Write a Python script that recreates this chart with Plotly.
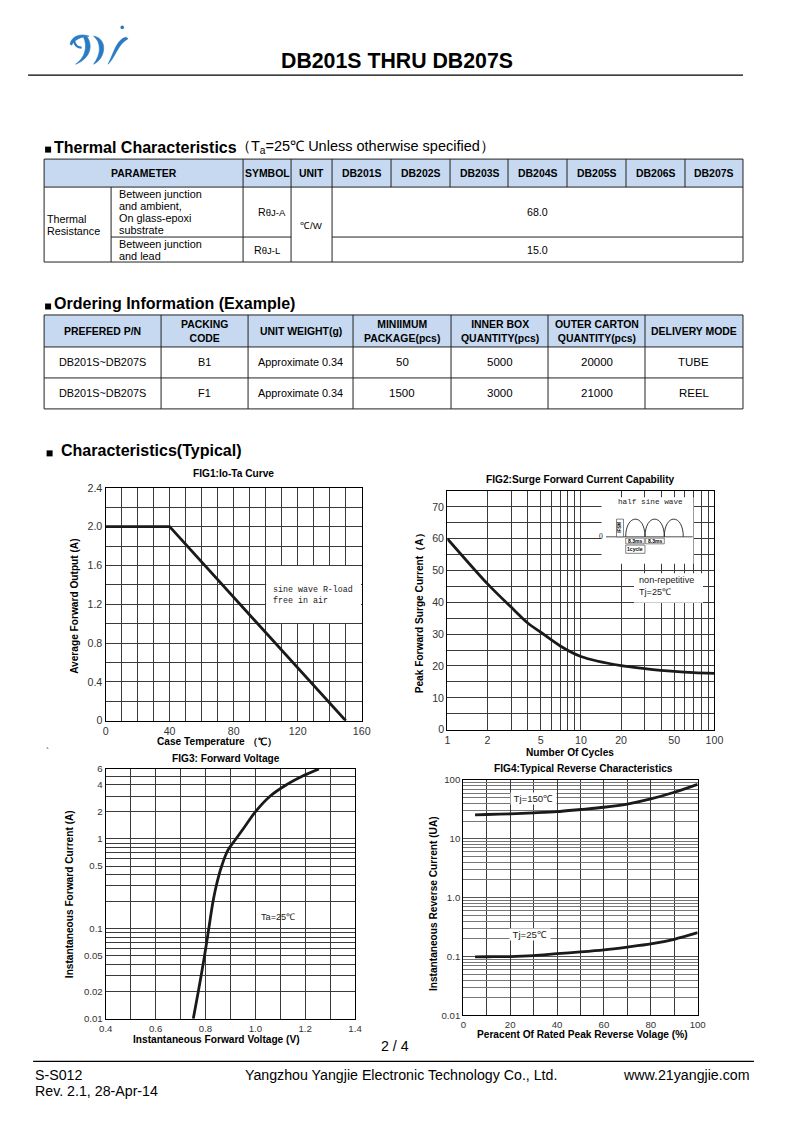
import math
import plotly.graph_objects as go

W, H = 794, 1122
# the captured picture shows the page slightly scaled/shifted; positions below are
# measured on the reference picture and converted back to figure pixels here
AX, BX = 0.98, 6.9
AY, BY = 0.99, 4.8
FS = 1 / 0.985

def px(X): return ((X - BX) / AX) / W
def py(Y): return 1 - ((Y - BY) / AY) / H

SANS = "Liberation Sans, Arial, sans-serif"
MONO = "Liberation Mono, Courier New, monospace"
SERIF = "Liberation Serif, Times New Roman, serif"

# ------------------------------------------------------------------ data
doc_title = "DB201S THRU DB207S"

thermal_heading = "Thermal Characteristics"
thermal_note = "（T<sub>a</sub>=25℃ Unless otherwise specified）"
thermal_columns = ["PARAMETER", "SYMBOL", "UNIT", "DB201S", "DB202S", "DB203S",
                   "DB204S", "DB205S", "DB206S", "DB207S"]
thermal_group = ["Thermal", "Resistance"]
thermal_conditions = [["Between junction", "and ambient,", "On glass-epoxi", "substrate"],
                      ["Between junction", "and lead"]]
thermal_symbols = ["R<span style='font-size:9.5px'>θJ-A</span>",
                   "R<span style='font-size:9.5px'>θJ-L</span>"]
thermal_unit = "℃/W"
thermal_values = ["68.0", "15.0"]

order_heading = "Ordering Information (Example)"
order_columns = ["PREFERED P/N", "PACKING<br>CODE", "UNIT WEIGHT(g)",
                 "MINIIMUM<br>PACKAGE(pcs)", "INNER BOX<br>QUANTITY(pcs)",
                 "OUTER CARTON<br>QUANTITY(pcs)", "DELIVERY MODE"]
order_rows = [["DB201S~DB207S", "B1", "Approximate 0.34", "50", "5000", "20000", "TUBE"],
              ["DB201S~DB207S", "F1", "Approximate 0.34", "1500", "3000", "21000", "REEL"]]

char_heading = "Characteristics(Typical)"

# FIG1 Io-Ta
fig1_temp = [0, 40, 150]
fig1_io = [2.0, 2.0, 0.0]
fig1_xticks = [0, 40, 80, 120, 160]
fig1_yticks = [0, 0.4, 0.8, 1.2, 1.6, 2.0, 2.4]
fig1_yticktext = ["0", "0.4", "0.8", "1.2", "1.6", "2.0", "2.4"]

# FIG2 surge
fig2_cycles = [1, 2, 3, 4, 5, 7, 10, 20, 30, 50, 70, 100]
fig2_current = [60, 45.8, 38.5, 33.5, 30.6, 26.3, 23.0, 20.1, 19.2, 18.3, 17.9, 17.7]
fig2_xticks = [1, 2, 5, 10, 20, 50, 100]
fig2_yticks = [0, 10, 20, 30, 40, 50, 60, 70]

# FIG3 forward voltage
fig3_voltage = [0.751, 0.771, 0.796, 0.813, 0.830, 0.843, 0.865, 0.890, 0.922,
                0.960, 1.000, 1.060, 1.125, 1.190, 1.255]
fig3_current = [0.01, 0.02, 0.05, 0.1, 0.2, 0.3, 0.5, 0.75, 1.0, 1.4, 2.0, 3.0,
                4.0, 5.0, 6.0]
fig3_xticks = [0.4, 0.6, 0.8, 1.0, 1.2, 1.4]
fig3_xticktext = ["0.4", "0.6", "0.8", "1.0", "1.2", "1.4"]
fig3_yticks = [0.01, 0.02, 0.05, 0.1, 0.5, 1, 2, 4, 6]
fig3_yticktext = ["0.01", "0.02", "0.05", "0.1", "0.5", "1", "2", "4", "6"]

# FIG4 reverse characteristics
fig4_pct = [5, 10, 20, 30, 40, 50, 60, 70, 80, 90, 100]
fig4_i150 = [25.5, 25.9, 26.5, 27.6, 29.0, 31.5, 34.4, 39.0, 47.6, 61.8, 84.5]
fig4_i25 = [0.099, 0.0995, 0.100, 0.104, 0.112, 0.120, 0.130, 0.145, 0.164, 0.197, 0.255]
fig4_xticks = [0, 20, 40, 60, 80, 100]
fig4_yticks = [0.01, 0.1, 1, 10, 100]
fig4_yticktext = ["0.01", "0.1", "1.0", "10", "100"]

footer_left = ["S-S012", "Rev. 2.1, 28-Apr-14"]
footer_mid = "Yangzhou Yangjie Electronic Technology Co., Ltd."
footer_right = "www.21yangjie.com"
page_no = "2 / 4"

# ------------------------------------------------------------------ helpers
shapes, annotations = [], []

def line(x0, y0, x1, y1, color="#222", width=1):
    shapes.append(dict(type="line", xref="paper", yref="paper", x0=px(x0), y0=py(y0),
                       x1=px(x1), y1=py(y1), line=dict(color=color, width=width)))

def rect(x0, y0, x1, y1, fill, color=None, width=0, layer="above"):
    shapes.append(dict(type="rect", xref="paper", yref="paper", x0=px(x0), y0=py(y0),
                       x1=px(x1), y1=py(y1), fillcolor=fill, layer=layer,
                       line=dict(color=color or fill, width=width)))

def P(x, y):
    return f"{px(x):.5f},{py(y):.5f}"

def bez(start, *segs):
    s = "M " + P(*start)
    for seg in segs:
        s += " C " + " ".join(P(*q) for q in seg)
    return s

def path(d, color, width, fill=None, close=False):
    shapes.append(dict(type="path", xref="paper", yref="paper", path=d + (" Z" if close else ""),
                       line=dict(color=color, width=width),
                       fillcolor=fill if fill else "rgba(0,0,0,0)"))

def text(x, y, s, size=10, anchor="center", font=SANS, color="#000", angle=0, bg=None):
    a = dict(xref="paper", yref="paper", x=px(x), y=py(y), text=s, showarrow=False,
             xanchor=anchor, yanchor="middle", textangle=angle,
             font=dict(family=font, size=size * FS, color=color), align="center")
    if bg:
        a["bgcolor"] = bg
        a["borderpad"] = 0
    annotations.append(a)

# ------------------------------------------------------------------ header / logo
logo = "#2a7ac4"
# leaf of the first glyph
path(bez((70, 43), ((71.5, 34.5), (81, 32), (89, 35)), ((82, 35.5), (75, 37.5), (71.5, 44))),
     logo, 0.6, fill=logo, close=True)
path(bez((74, 40), ((75, 44), (78, 46.5), (81.5, 46.5))), logo, 2.2)
# descender of the first glyph
path(bez((86.5, 35), ((93.5, 44), (90.5, 57.5), (75.5, 63)),
         ((84.5, 57), (88, 46), (83.5, 36))), logo, 0.6, fill=logo, close=True)
# middle glyph
path(bez((93.5, 35), ((100.5, 36), (104.5, 42), (103.5, 49)),
         ((102.5, 56), (98.5, 60.5), (93.5, 63)),
         ((97, 58), (99.3, 53), (99.3, 48)),
         ((99.3, 42), (97.3, 38), (93.5, 35))), logo, 0.6, fill=logo, close=True)
# right glyph
path(bez((126, 36), ((117, 37.5), (114, 51), (108, 63)),
         ((115.5, 56), (117.5, 43), (128, 37.5))), logo, 0.6, fill=logo, close=True)
shapes.append(dict(type="circle", xref="paper", yref="paper", x0=px(120.3), x1=px(124),
                   y0=py(28), y1=py(24.3), fillcolor=logo, line=dict(color=logo, width=0)))

text(397, 60, f"<b>{doc_title}</b>", size=21)
line(28, 74, 743, 74, "#000", 1.2)

# ------------------------------------------------------------------ thermal table
def square(x, yc):
    rect(x, yc - 0.5, x + 6, yc + 5.5, "#000")

square(45, 146)
text(52, 145.5, f"<b>{thermal_heading}</b>", size=15.8, anchor="left")
text(234, 146, thermal_note, size=14.3, anchor="left")

tc = [44, 111, 243, 291, 332, 391, 450, 508, 567, 626, 685, 743]
tr = [158, 186, 236, 261]
HEAD_BG = "#c6d9f1"
rect(tc[0], tr[0], tc[-1], tr[1], HEAD_BG)
hdr_edges = [(tc[0], tc[2])] + [(tc[i], tc[i + 1]) for i in range(2, len(tc) - 1)]
for (a, b), lab in zip(hdr_edges, thermal_columns):
    text((a + b) / 2, 172, f"<b>{lab}</b>", size=10.3)
line(tc[0], tr[0], tc[-1], tr[0])
line(tc[0], tr[1], tc[-1], tr[1])
line(tc[0], tr[3], tc[-1], tr[3])
line(tc[1], tr[2], tc[3], tr[2])
line(tc[4], tr[2], tc[-1], tr[2])
line(tc[0], tr[0], tc[0], tr[3])
line(tc[-1], tr[0], tc[-1], tr[3])
for xv in tc[2:-1]:
    line(xv, tr[0], xv, tr[1])
for xv in tc[1:5]:
    line(xv, tr[1], xv, tr[3])
for i, s in enumerate(thermal_group):
    text(44.5, 218 + 12 * i, s, size=10.6, anchor="left")
for j, cond in enumerate(thermal_conditions):
    y0 = 193 if j == 0 else 243
    for i, s in enumerate(cond):
        text(116.5, y0 + 12 * i, s, size=10.7, anchor="left")
text(272, 211, thermal_symbols[0], size=10.5)
text(267, 249, thermal_symbols[1], size=10.5)
text(311, 224, thermal_unit, size=9.5)
text(537, 211, thermal_values[0], size=10.5)
text(537, 249, thermal_values[1], size=10.5)

# ------------------------------------------------------------------ ordering table
square(45, 303)
text(52, 302.5, f"<b>{order_heading}</b>", size=15.8, anchor="left")
oc = [44, 161, 248, 353, 451, 548, 645, 743]
orr = [314, 346, 377, 408]
rect(oc[0], orr[0], oc[-1], orr[1], HEAD_BG)
for yv in orr:
    line(oc[0], yv, oc[-1], yv)
for xv in oc:
    line(xv, orr[0], xv, orr[-1])
for i, lab in enumerate(order_columns):
    text((oc[i] + oc[i + 1]) / 2, 330.5, f"<b>{lab}</b>", size=10.3)
for r, row in enumerate(order_rows):
    yc = (orr[r + 1] + orr[r + 2]) / 2
    for i, val in enumerate(row):
        sz = 11.3 if val.isdigit() or val in ("TUBE", "REEL") else 10.7
        text((oc[i] + oc[i + 1]) / 2, yc, val, size=sz)

# ------------------------------------------------------------------ characteristics
square(46.5, 450)
text(59, 449.5, f"<b>{char_heading}</b>", size=15.8, anchor="left")
text(47, 750, "`", size=9)

fig = go.Figure()
LINE = dict(color="#1a1a1a", width=2.8)
GRID = "#3a3a3a"
TICKC = "#333"

fig.add_trace(go.Scatter(x=fig1_temp, y=fig1_io, mode="lines", line=LINE,
                         xaxis="x", yaxis="y", hoverinfo="skip"))
fig.add_trace(go.Scatter(x=fig2_cycles, y=fig2_current, mode="lines",
                         line=dict(LINE, shape="spline", smoothing=0.8),
                         xaxis="x2", yaxis="y2", hoverinfo="skip"))
fig.add_trace(go.Scatter(x=fig3_voltage, y=fig3_current, mode="lines",
                         line=dict(LINE, shape="spline", smoothing=1.0),
                         xaxis="x3", yaxis="y3", hoverinfo="skip"))
fig.add_trace(go.Scatter(x=fig4_pct, y=fig4_i150, mode="lines",
                         line=dict(LINE, shape="spline", smoothing=0.8),
                         xaxis="x4", yaxis="y4", hoverinfo="skip"))
fig.add_trace(go.Scatter(x=fig4_pct, y=fig4_i25, mode="lines",
                         line=dict(LINE, shape="spline", smoothing=0.8),
                         xaxis="x4", yaxis="y4", hoverinfo="skip"))

def ax(domain, rng, tickvals, ticktext, minor_vals, anchor, typ="linear", size=10.5,
       gridw=1):
    return dict(domain=domain, range=rng, type=typ, tickmode="array", tickvals=tickvals,
                ticktext=ticktext, showgrid=True, gridcolor=GRID, gridwidth=gridw,
                showline=True, linecolor="#000", linewidth=1.3, mirror=True, ticks="",
                zeroline=False, anchor=anchor, fixedrange=True,
                tickfont=dict(family=SANS, size=size * FS, color=TICKC),
                minor=dict(tickmode="array", tickvals=minor_vals, showgrid=True,
                           gridcolor=GRID, gridwidth=gridw, ticks=""))

def dom_x(a, b): return [px(a), px(b)]
def dom_y(top, bot): return [py(bot), py(top)]

lay = {}
lay["xaxis"] = ax(dom_x(105.5, 361.7), [0, 160], fig1_xticks, [str(v) for v in fig1_xticks],
                  [v for v in range(0, 161, 10)], "y")
lay["yaxis"] = ax(dom_y(487, 720), [0, 2.4], fig1_yticks, fig1_yticktext,
                  [round(0.2 * k, 1) for k in range(13)], "x")
fig2_minor = [3, 4, 6, 7, 8, 9, 30, 40, 60, 70, 80, 90]
lay["xaxis2"] = ax(dom_x(447.3, 714.5), [0, 2], fig2_xticks, [str(v) for v in fig2_xticks],
                   fig2_minor, "y2", typ="log")
lay["yaxis2"] = ax(dom_y(490, 729), [0, 75], fig2_yticks, [str(v) for v in fig2_yticks],
                   [v for v in range(0, 76, 5)], "x2")
fig3_minor_y = [0.03, 0.04, 0.06, 0.07, 0.08, 0.09, 0.2, 0.3, 0.4, 0.6, 0.7, 0.8, 0.9, 3, 5]
lay["xaxis3"] = ax(dom_x(105.7, 355), [0.4, 1.4], fig3_xticks, fig3_xticktext,
                   [round(0.4 + 0.1 * k, 1) for k in range(11)], "y3", size=9.5)
lay["yaxis3"] = ax(dom_y(768.3, 1018.3), [-2, math.log10(6)], fig3_yticks, fig3_yticktext,
                   fig3_minor_y, "x3", typ="log", size=9.5)
fig4_minor_y = [m * 10 ** e for e in (-2, -1, 0, 1) for m in range(2, 10)]
lay["xaxis4"] = ax(dom_x(463.3, 697.7), [0, 100], fig4_xticks, [str(v) for v in fig4_xticks],
                   [v for v in range(0, 101, 10)], "y4", size=9.5)
lay["yaxis4"] = ax(dom_y(779.3, 1015), [-2, 2], fig4_yticks, fig4_yticktext,
                   fig4_minor_y, "x4", typ="log", size=9.5)
lay["yaxis4"]["gridcolor"] = "#555"
lay["yaxis4"]["minor"]["gridcolor"] = "#777"

# FIG1 note box
shapes.append(dict(type="rect", xref="x", yref="y", x0=100.3, x1=159.6, y0=1.006, y1=1.594,
                   fillcolor="white", line=dict(width=0), layer="above"))
text(271, 588.5, "sine wave R-load", size=8.2, anchor="left", font=MONO, color="#222")
text(271, 599.5, "free in air", size=8.2, anchor="left", font=MONO, color="#222")

# FIG2 inset
rect(601.5, 496.5, 693.5, 563, "white")
rect(634, 572.5, 703, 602, "white")
text(650, 501, "half sine wave", size=7.6, font=MONO, color="#222")
line(606, 536, 692.7, 536, "#222", 0.8)
text(604.5, 536, "0", size=7.5, anchor="right", font=SERIF, color="#222")
for a, b in [(625.7, 645), (645, 664.3), (664.3, 683.3)]:
    path(bez((a, 536), ((a, 512.4), (b, 512.4), (b, 536))), "#222", 0.9)
rect(616.5, 518.3, 623.5, 536, "white", "#333", 0.6)
text(620, 527, "<b>IFSM</b>", size=4.5, angle=-90)
rect(625.7, 537.3, 644.3, 543, "white", "#333", 0.6)
rect(645.7, 537.3, 664.3, 543, "white", "#333", 0.6)
text(635, 540.2, "<b>8.3ms</b>", size=5)
text(655, 540.2, "<b>8.3ms</b>", size=5)
rect(625.7, 544.3, 645, 552.5, "white", "#333", 0.6)
text(635.3, 548.4, "<b>1cycle</b>", size=5)
text(636.5, 579.5, "non-repetitive", size=9, anchor="left", color="#222")
text(636.5, 591, "Tj=25℃", size=9, anchor="left", color="#222")

# FIG3 note
text(278, 916.5, "Ta=25℃", size=9, color="#222")

# FIG4 curve labels
text(533, 797.5, " Tj=150℃ ", size=9.5, color="#222", bg="white")
text(530, 933.5, " Tj=25℃ ", size=9.5, color="#222", bg="white")

# chart titles & axis titles
text(233, 473, "<b>FIG1:Io-Ta Curve</b>", size=10)
text(75, 606, "<b>Average Forward Output (A)</b>", size=10, angle=-90)
text(217, 740.5, "<b>Case Temperature （℃）</b>", size=10)

text(580, 479, "<b>FIG2:Surge Forward Current Capability</b>", size=10)
text(419.5, 610, "<b>Peak Forward Surge Current（A）</b>", size=10, angle=-90)
text(570, 752, "<b>Number Of Cycles</b>", size=10)

text(226, 758, "<b>FIG3: Forward Voltage</b>", size=10)
text(69.5, 894, "<b>Instantaneous Forward Current (A)</b>", size=10, angle=-90)
text(216, 1039.5, "<b>Instantaneous Forward Voltage (V)</b>", size=10)

text(583, 767.5, "<b>FIG4:Typical Reverse Characteristics</b>", size=10)
text(433.5, 903, "<b>Instantaneous Reverse Current (UA)</b>", size=10, angle=-90)
text(582, 1034.5, "<b>Peracent Of Rated Peak Reverse Volage (%)</b>", size=10)

# ------------------------------------------------------------------ footer
text(395, 1046, page_no, size=14)
line(33, 1061, 754, 1061, "#000", 1.2)
text(33, 1075, footer_left[0], size=14, anchor="left")
text(33, 1091, footer_left[1], size=14, anchor="left")
text(401, 1075, footer_mid, size=14)
text(752, 1075, footer_right, size=14, anchor="right")

fig.update_layout(width=W, height=H, margin=dict(l=0, r=0, t=0, b=0, pad=0),
                  paper_bgcolor="white", plot_bgcolor="white", showlegend=False,
                  shapes=shapes, annotations=annotations, **lay)
fig.write_html("out.html", config={"displayModeBar": False},
               post_script="document.body.style.margin='0';document.body.style.padding='0';"
                           "document.documentElement.style.overflow='hidden';")
